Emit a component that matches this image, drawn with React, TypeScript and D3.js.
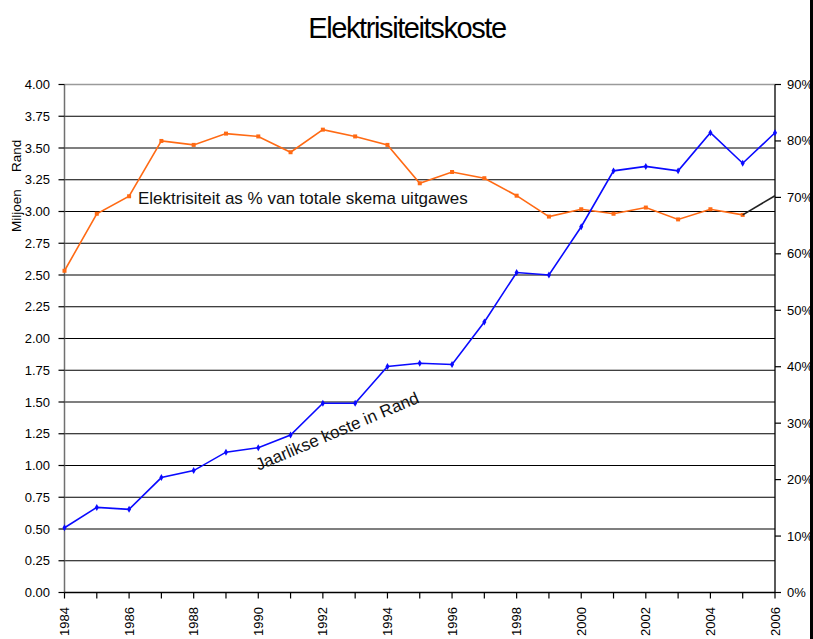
import React from 'react';
import * as d3 from 'd3';

// Chart data
const YEARS = [1984, 1985, 1986, 1987, 1988, 1989, 1990, 1991, 1992, 1993, 1994, 1995,
  1996, 1997, 1998, 1999, 2000, 2001, 2002, 2003, 2004, 2005, 2006];
const COST_MILLIONS = [0.51, 0.67, 0.655, 0.905, 0.96, 1.105, 1.14, 1.24, 1.49, 1.49, 1.78, 1.805,
  1.795, 2.13, 2.52, 2.5, 2.88, 3.32, 3.355, 3.32, 3.62, 3.38, 3.62];
const PCT_YEARS = YEARS.slice(0, 22);
const PCT_OF_TOTAL = [57.0, 67.1, 70.2, 80.0, 79.3, 81.3, 80.8, 78.0, 82.0, 80.8, 79.3, 72.5,
  74.5, 73.4, 70.3, 66.6, 67.9, 67.1, 68.2, 66.1, 67.9, 66.9];
const TREND_YEARS = [2005, 2006];
const TREND_PCT = [66.9, 70.3];

const LEFT_TICKS = [0, 0.25, 0.5, 0.75, 1, 1.25, 1.5, 1.75, 2, 2.25, 2.5, 2.75, 3, 3.25, 3.5, 3.75, 4];
const RIGHT_TICKS = [0, 10, 20, 30, 40, 50, 60, 70, 80, 90];
const X_LABELS = [1984, 1986, 1988, 1990, 1992, 1994, 1996, 1998, 2000, 2002, 2004, 2006];

const COLORS = {
  cost: '#0a0aff',
  pct: '#ff6a14',
  trend: '#222222',
  grid: '#000000',
  frame: '#9a9a9a',
  text: '#000000',
};

const FONT = '"Liberation Sans", Arial, Helvetica, sans-serif';
const W = 813;
const H = 639;
const M = { left: 64.5, right: 775, top: 84.5, bottom: 592.5 };

export default function App() {
  const x = d3.scaleLinear().domain([1984, 2006]).range([M.left, M.right]);
  const yL = d3.scaleLinear().domain([0, 4]).range([M.bottom, M.top]);
  const yR = d3.scaleLinear().domain([0, 90]).range([M.bottom, M.top]);

  const costLine = d3.line<number>()
    .x((_, i) => x(YEARS[i]))
    .y((d) => yL(d))(COST_MILLIONS) || '';
  const pctLine = d3.line<number>()
    .x((_, i) => x(PCT_YEARS[i]))
    .y((d) => yR(d))(PCT_OF_TOTAL) || '';
  const trendLine = d3.line<number>()
    .x((_, i) => x(TREND_YEARS[i]))
    .y((d) => yR(d))(TREND_PCT) || '';

  const diamond = d3.symbol().type(d3.symbolDiamond).size(14)() || '';
  const square = d3.symbol().type(d3.symbolSquare).size(16)() || '';

  return (
    <div style={{ position: 'absolute', left: 0, top: 0, width: W, height: H, background: '#fff' }}>
      <svg width={W} height={H} style={{ display: 'block', fontFamily: FONT }}>
        <rect x={0} y={0} width={W} height={H} fill="#fff" />

        {/* title */}
        <text x={407} y={38} textAnchor="middle" fontSize={29} letterSpacing={-1.4} fill={COLORS.text}>
          Elektrisiteitskoste
        </text>

        {/* gridlines */}
        {LEFT_TICKS.filter((t) => t > 0 && t < 4).map((t) => (
          <line key={`g${t}`} x1={M.left} x2={M.right} y1={yL(t)} y2={yL(t)}
            stroke={COLORS.grid} strokeWidth={1.2} />
        ))}
        <line x1={M.left} x2={M.right} y1={yL(4)} y2={yL(4)} stroke={COLORS.frame} strokeWidth={1.5} />

        {/* left axis */}
        <line x1={M.left} x2={M.left} y1={M.top} y2={M.bottom} stroke="#707070" strokeWidth={1.5} />
        {LEFT_TICKS.map((t) => (
          <g key={`l${t}`}>
            <line x1={M.left - 6} x2={M.left} y1={yL(t)} y2={yL(t)} stroke={COLORS.grid} strokeWidth={1.2} />
            <text x={50} y={yL(t)} dy="0.35em" textAnchor="end" fontSize={13} fill={COLORS.text}>
              {t.toFixed(2)}
            </text>
          </g>
        ))}
        <text transform="translate(20.5,232) rotate(-90)" fontSize={13.5} fill={COLORS.text}>Miljoen</text>
        <text transform="translate(20.5,172) rotate(-90)" fontSize={13.5} fill={COLORS.text}>Rand</text>

        {/* right axis */}
        <line x1={M.right} x2={M.right} y1={M.top} y2={M.bottom} stroke={COLORS.grid} strokeWidth={1.3} />
        {RIGHT_TICKS.map((t) => (
          <g key={`r${t}`}>
            <line x1={M.right} x2={M.right + 6} y1={yR(t)} y2={yR(t)} stroke={COLORS.grid} strokeWidth={1.2} />
            <text x={787} y={yR(t)} dy="0.35em" fontSize={13} fill={COLORS.text}>{`${t}%`}</text>
          </g>
        ))}

        {/* x axis */}
        <line x1={M.left} x2={M.right} y1={M.bottom} y2={M.bottom} stroke={COLORS.grid} strokeWidth={1.4} />
        {YEARS.map((yr) => (
          <line key={`t${yr}`} x1={x(yr)} x2={x(yr)} y1={M.bottom} y2={M.bottom + 6}
            stroke={COLORS.grid} strokeWidth={1.2} />
        ))}
        {X_LABELS.map((yr) => (
          <text key={`x${yr}`} transform={`translate(${x(yr) + 4.5},607) rotate(-90)`}
            textAnchor="end" fontSize={13} fill={COLORS.text}>
            {yr}
          </text>
        ))}

        {/* series */}
        <path d={pctLine} fill="none" stroke={COLORS.pct} strokeWidth={1.6} />
        {PCT_OF_TOTAL.map((v, i) => (
          <path key={`p${i}`} d={square} transform={`translate(${x(PCT_YEARS[i])},${yR(v)})`} fill={COLORS.pct} />
        ))}
        <path d={trendLine} fill="none" stroke={COLORS.trend} strokeWidth={1.6} />

        <path d={costLine} fill="none" stroke={COLORS.cost} strokeWidth={1.6} />
        {COST_MILLIONS.map((v, i) => (
          <path key={`c${i}`} d={diamond} transform={`translate(${x(YEARS[i])},${yL(v)})`} fill={COLORS.cost} />
        ))}

        {/* annotations */}
        <text x={138} y={204} fontSize={17} fill="#111">Elektrisiteit as % van totale skema uitgawes</text>
        <text transform="translate(337,431) rotate(-23)" y={6} textAnchor="middle" fontSize={17} fill="#111">
          Jaarlikse koste in Rand
        </text>

        {/* right edge bar */}
        <rect x={810} y={0} width={3} height={H} fill="#000" />
      </svg>
    </div>
  );
}
